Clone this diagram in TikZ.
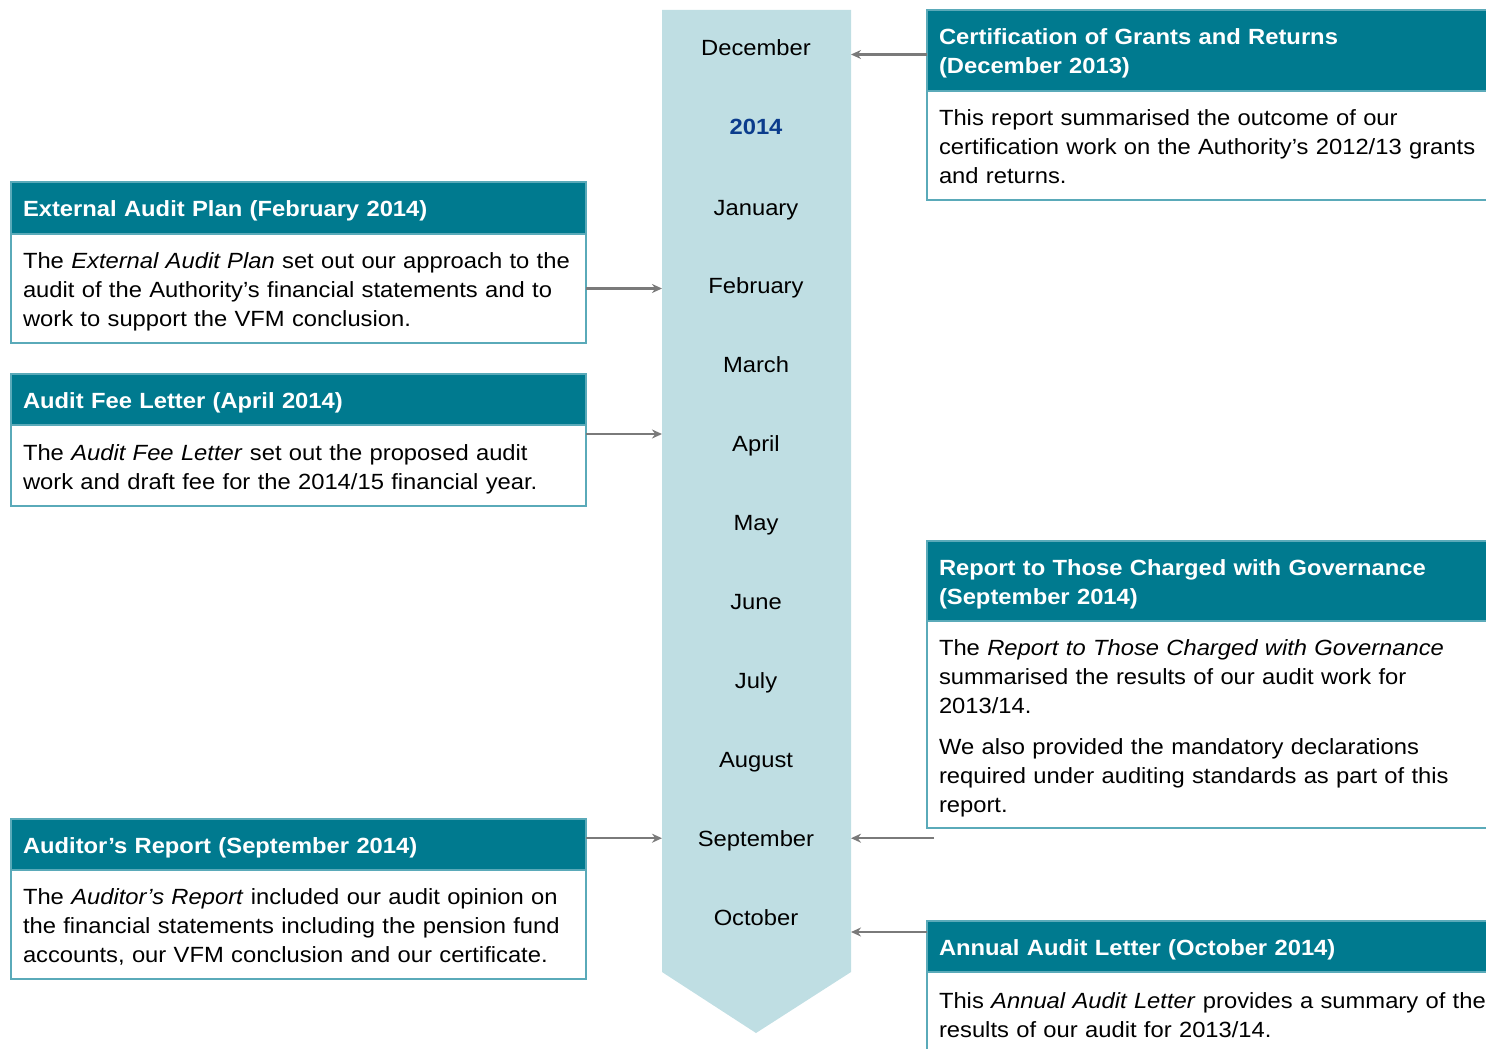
\documentclass[tikz,border=0pt]{standalone}
\usepackage{fontspec}
\setmainfont{Liberation Sans}[FakeStretch=1.08]
\usepackage{xcolor}
\usetikzlibrary{positioning, arrows.meta}

\definecolor{tealhead}{HTML}{007A8F}
\definecolor{tealline}{HTML}{5AAAB9}
\definecolor{chevfill}{HTML}{BFDEE3}
\definecolor{yearblue}{HTML}{0B3C8C}
\definecolor{linkgrey}{HTML}{7A7A7A}

\tikzset{
	boxtext/.style = {outer sep = 0pt, inner xsep = 6pt, align = left,
		execute at begin node = \rule{0pt}{11.5pt},
		execute at end node = \rule[-2.5pt]{0pt}{0pt}},
	head/.style = {boxtext, fill = tealhead, draw = tealline, line width = 0.75pt,
		text = white, anchor = north west,
		font = \fontsize{11}{14.5}\selectfont\bfseries},
	body/.style = {boxtext, fill = white, draw = tealline, line width = 0.75pt,
		below = 0pt of #1, font = \fontsize{11}{14.5}\selectfont},
	leftbox/.style = {text width = 275.5pt},
	rightbox/.style = {text width = 300pt},
	month/.style = {font = \fontsize{11}{13}\selectfont, text height = 8pt, text depth = 0pt, inner sep = 0pt},
	link/.style = {draw = linkgrey, line width = 1.2pt, -{Stealth[length = 5pt, width = 4.5pt]}}
}

\begin{document}
\begin{tikzpicture}[x = 0.5pt, y = -0.5pt]
		\clip (0,0) rectangle (1486,1048);
		
		\coordinate (chev left) at (662,10);
		\coordinate (chev right) at (851,10);
		\coordinate (chev tip) at (756,1033);
		
		%timeline
		\fill [chevfill] (chev left) -- (chev right) -- (851,972) -- (chev tip) -- (662,972) -- cycle;
		
		\node [month] (December) at (756,48) {December};
		\node [month, font = \fontsize{11}{13}\selectfont\bfseries, text = yearblue] (year) at (756,127) {2014};
		\foreach \m [count = \i from 0] in {January, February, March, April, May, June, July, August, September, October}
			\node [month] (\m) at (756,{207 + 78.9*\i}) {\m};
		
		%left reports
		\node [head, leftbox, minimum height = 26pt] (planhead) at (11,182) {External Audit Plan (February 2014)};
		\node [body = planhead, leftbox, minimum height = 54.5pt] (planbody) {The \textit{External Audit Plan} set out our approach to the\\ audit of the Authority’s financial statements and to\\ work to support the VFM conclusion.};
		
		\node [head, leftbox, minimum height = 25.5pt] (feehead) at (11,374) {Audit Fee Letter (April 2014)};
		\node [body = feehead, leftbox, minimum height = 40.5pt] (feebody) {The \textit{Audit Fee Letter} set out the proposed audit\\ work and draft fee for the 2014/15 financial year.};
		
		\node [head, leftbox, minimum height = 25.5pt] (opinhead) at (11,819) {Auditor’s Report (September 2014)};
		\node [body = opinhead, leftbox, minimum height = 54.5pt] (opinbody) {The \textit{Auditor’s Report} included our audit opinion on\\ the financial statements including the pension fund\\ accounts, our VFM conclusion and our certificate.};
		
		%right reports
		\node [head, rightbox, minimum height = 40.5pt] (certhead) at (927,10) {Certification of Grants and Returns\\ (December 2013)};
		\node [body = certhead, rightbox, minimum height = 54.5pt] (certbody) {This report summarised the outcome of our\\ certification work on the Authority’s 2012/13 grants\\ and returns.};
		
		\node [head, rightbox, minimum height = 40pt] (tcwghead) at (927,541) {Report to Those Charged with Governance\\ (September 2014)};
		\node [body = tcwghead, rightbox, minimum height = 103.5pt] (tcwgbody) {The \textit{Report to Those Charged with Governance}\\ summarised the results of our audit work for\\ 2013/14.\\[6pt] We also provided the mandatory declarations\\ required under auditing standards as part of this\\ report.};
		
		\node [head, rightbox, minimum height = 25.5pt] (annualhead) at (927,921) {Annual Audit Letter (October 2014)};
		\node [body = annualhead, rightbox, minimum height = 41.5pt] (annualbody) {This \textit{Annual Audit Letter} provides a summary of the\\ results of our audit for 2013/14.};
		
		%links
		\draw [link] (planbody.east) -- (planbody.east -| chev left);
		\draw [link] ([yshift = -4.5pt]feebody.north east) -- ([yshift = -4.5pt]feebody.north east -| chev left);
		\draw [link] (opinhead.east |- September) -- (chev left |- September);
		
		\draw [link] ([yshift = -2pt]certhead.west) -- ([yshift = -2pt]certhead.west -| chev right);
		\draw [link] ([xshift = 3.5pt]tcwgbody.west |- September) -- (chev right |- September);
		\draw [link] ([yshift = -5.5pt]annualhead.north west) -- ([yshift = -5.5pt]annualhead.north west -| chev right);
	\end{tikzpicture}
\end{document}
